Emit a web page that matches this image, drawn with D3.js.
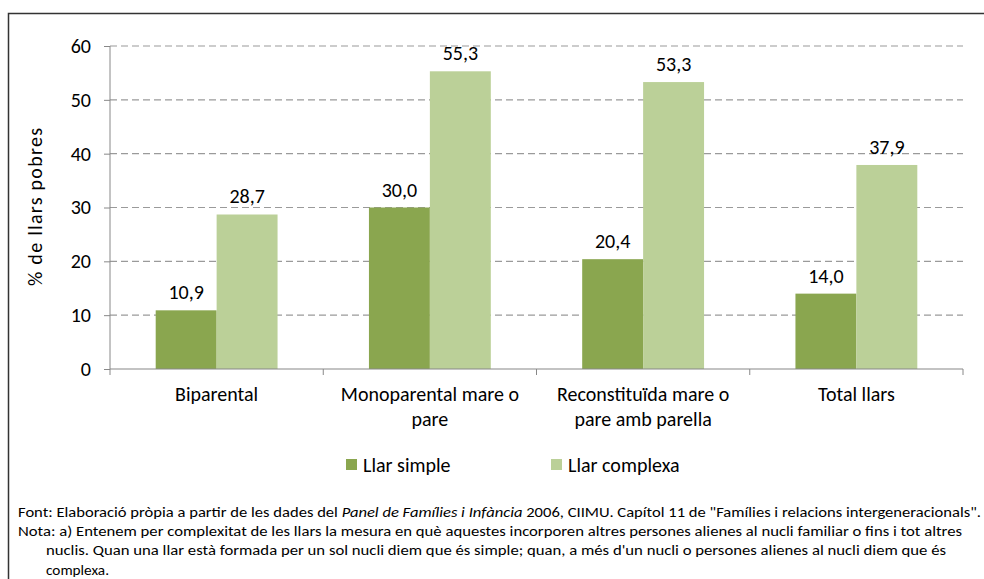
<!DOCTYPE html>
<html>
<head>
<meta charset="utf-8">
<script src="https://cdn.jsdelivr.net/npm/d3@7"></script>
<style>
  body { margin: 0; background: #fff; }
  svg { display: block; font-family: Carlito, Lato, "Open Sans", sans-serif; font-weight: 400; }
</style>
</head>
<body>
<div id="visual"></div>
<script>
// chart data
const categories = [["Biparental"], ["Monoparental mare o", "pare"], ["Reconstituïda mare o", "pare amb parella"], ["Total llars"]];
const seriesNames = ["Llar simple", "Llar complexa"];
const simpleValues = [10.9, 30.0, 20.4, 14.0];
const complexValues = [28.7, 55.3, 53.3, 37.9];
const yTicks = [0, 10, 20, 30, 40, 50, 60];

const COLORS = {
    "Llar simple": "#8aa64f",
    "Llar complexa": "#bbd098"
};
const FS = "20px";

const W = 984, H = 579;
let margin = {top: 46, right: 21, bottom: 210, left: 110},
    width = W - margin.left - margin.right,
    height = H - margin.top - margin.bottom;

let svgRoot = d3.select("#visual").append("svg")
    .attr("width", W)
    .attr("height", H);

// outer frame
svgRoot.append("rect")
    .attr("x", 8.5).attr("y", 13.5)
    .attr("width", 1000).attr("height", 700)
    .style("fill", "none")
    .style("stroke", "#333")
    .style("stroke-width", 1.5);

let svg = svgRoot.append("g")
    .attr("transform", "translate(" + margin.left + "," + margin.top + ")");

let catKeys = categories.map(d => d.join(" "));
let rows = catKeys.map((c, i) => ({cat: c, values: [
    {name: seriesNames[0], value: simpleValues[i]},
    {name: seriesNames[1], value: complexValues[i]}
]}));

let x0 = d3.scaleBand().domain(catKeys).range([0, width]).padding(0);
let x1 = d3.scaleBand().domain(seriesNames).range([0, x0.bandwidth()])
    .paddingInner(0).paddingOuter(0.75);
let y = d3.scaleLinear().domain([0, 60]).range([height, 0]);

// gridlines
svg.append("g")
    .selectAll("line")
    .data(yTicks.filter(d => d > 0))
    .enter().append("line")
    .attr("x1", 0).attr("x2", width)
    .attr("y1", d => y(d)).attr("y2", d => y(d))
    .style("stroke", "#9a9a9a")
    .style("stroke-width", 1.2)
    .style("stroke-dasharray", "7,4");

// bars
let groups = svg.selectAll(".grp")
    .data(rows)
    .enter().append("g")
    .attr("class", "grp")
    .attr("transform", d => "translate(" + x0(d.cat) + ",0)");

groups.selectAll("rect")
    .data(d => d.values)
    .enter().append("rect")
    .attr("x", d => x1(d.name))
    .attr("width", x1.bandwidth())
    .attr("y", d => y(d.value))
    .attr("height", d => height - y(d.value))
    .style("fill", d => COLORS[d.name]);

groups.selectAll("text.val")
    .data(d => d.values)
    .enter().append("text")
    .attr("class", "val")
    .attr("x", d => x1(d.name) + x1.bandwidth() / 2)
    .attr("y", d => y(d.value) - 11)
    .attr("text-anchor", "middle")
    .style("font-size", FS)
    .style("fill", "#000")
    .text(d => d3.format(".1f")(d.value).replace(".", ","));

// y axis
let yAxis = svg.append("g")
    .call(d3.axisLeft(y).tickValues(yTicks).tickSize(6).tickPadding(13));
yAxis.select(".domain").attr("d", "M0,0V" + height).style("stroke", "#888");
yAxis.selectAll(".tick line").style("stroke", "#888");
yAxis.selectAll("text").style("font-size", FS).style("fill", "#000")
    .style("font-family", "Carlito, Lato, sans-serif");

// x axis
let xAxis = svg.append("g").attr("transform", "translate(0," + height + ")");
xAxis.append("line").attr("x1", 0).attr("x2", width)
    .style("stroke", "#888").style("stroke-width", 1.2);
xAxis.selectAll(".sep")
    .data(d3.range(catKeys.length + 1))
    .enter().append("line")
    .attr("x1", i => i * x0.step()).attr("x2", i => i * x0.step())
    .attr("y1", 0).attr("y2", 6)
    .style("stroke", "#888");

xAxis.selectAll(".cat")
    .data(categories)
    .enter().append("text")
    .attr("class", "cat")
    .attr("text-anchor", "middle")
    .attr("transform", (d, i) => "translate(" + (x0(catKeys[i]) + x0.bandwidth() / 2) + ",32)")
    .style("font-size", FS)
    .style("fill", "#000")
    .selectAll("tspan")
    .data(d => d)
    .enter().append("tspan")
    .attr("x", 0)
    .attr("y", (d, i) => i * 25)
    .text(d => d);

// y axis title
svgRoot.append("text")
    .attr("transform", "translate(42,207) rotate(-90)")
    .attr("text-anchor", "middle")
    .attr("textLength", 158).attr("lengthAdjust", "spacing")
    .style("font-size", FS)
    .text("% de llars pobres");

// legend
let legendX = [346, 551];
let legend = svgRoot.selectAll(".legend")
    .data(seriesNames)
    .enter().append("g")
    .attr("class", "legend")
    .attr("transform", (d, i) => "translate(" + legendX[i] + ",459)");
legend.append("rect")
    .attr("width", 11).attr("height", 11)
    .style("fill", d => COLORS[d]);
legend.append("text")
    .attr("x", 17).attr("y", 13)
    .style("font-size", FS)
    .text(d => d);

// source notes
let notes = svgRoot.append("g").style("font-size", "14px").style("fill", "#000");
let l1 = notes.append("text").attr("x", 18).attr("y", 517)
    .attr("textLength", 963).attr("lengthAdjust", "spacingAndGlyphs");
l1.append("tspan").text("Font: Elaboració pròpia a partir de les dades del ");
l1.append("tspan").style("font-style", "italic").text("Panel de Famílies i Infància");
l1.append("tspan").text(" 2006, CIIMU. Capítol 11 de \"Famílies i relacions intergeneracionals\".");

notes.append("text").attr("x", 18).attr("y", 536)
    .attr("textLength", 944).attr("lengthAdjust", "spacingAndGlyphs")
    .text("Nota: a) Entenem per complexitat de les llars la mesura en què aquestes incorporen altres persones alienes al nucli familiar o fins i tot altres");
notes.append("text").attr("x", 46).attr("y", 555)
    .attr("textLength", 900).attr("lengthAdjust", "spacingAndGlyphs")
    .text("nuclis. Quan una llar està formada per un sol nucli diem que és simple; quan, a més d'un nucli o persones alienes al nucli diem que és");
notes.append("text").attr("x", 46).attr("y", 575)
    .attr("textLength", 63).attr("lengthAdjust", "spacingAndGlyphs")
    .text("complexa.");
</script>
</body>
</html>
